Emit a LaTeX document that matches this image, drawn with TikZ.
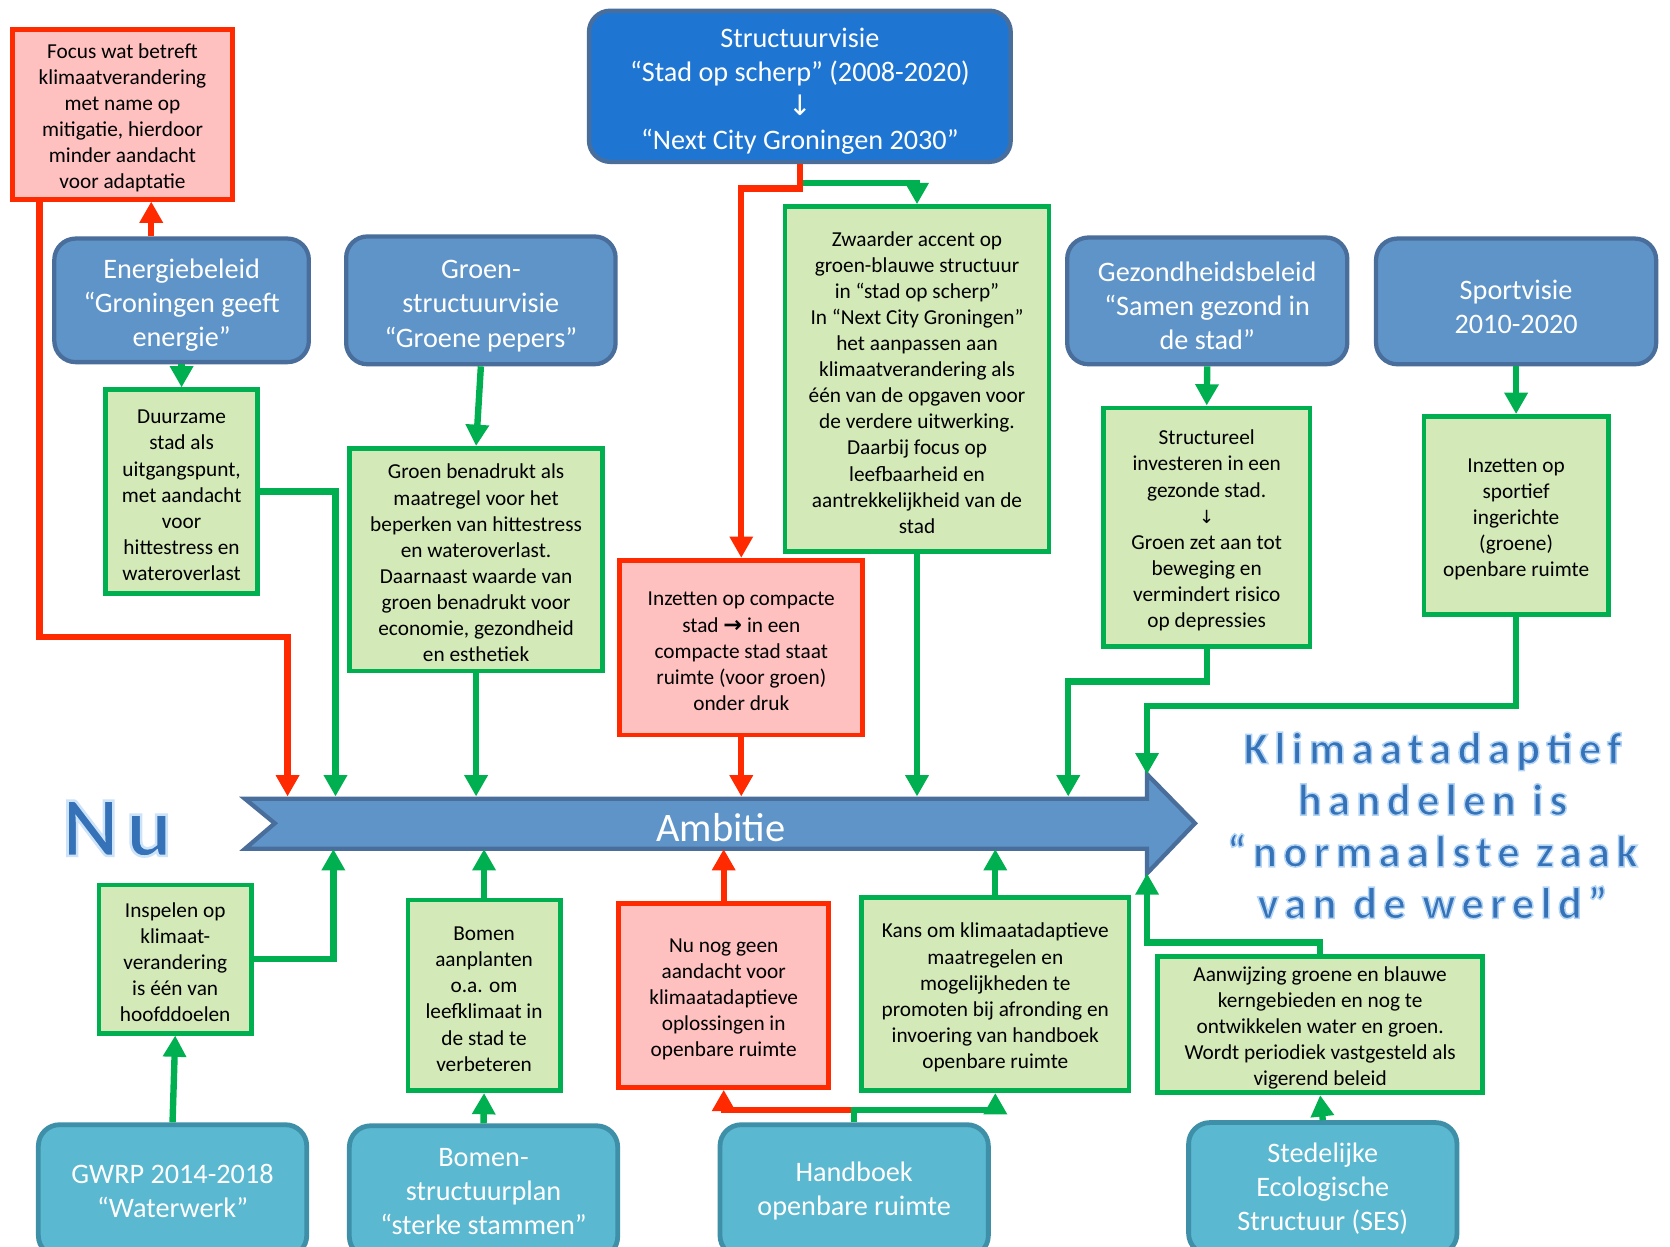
\documentclass[tikz,border=0pt]{standalone}
\usepackage{fontspec}
\setmainfont{Carlito}
\newfontfamily\arrowfont{DejaVu Sans}
\newfontfamily\titlefont[LetterSpace=14]{Carlito}
\newfontfamily\nufont[LetterSpace=9]{Carlito}
\usetikzlibrary{arrows.meta,calc}
\definecolor{gline}{HTML}{00B050}
\definecolor{gfill}{HTML}{D3E9B8}
\definecolor{rline}{HTML}{FF2A00}
\definecolor{rfill}{HTML}{FFC0C0}
\definecolor{bfill}{HTML}{5F94C9}
\definecolor{bline}{HTML}{4A6E9B}
\definecolor{topfill}{HTML}{1F76D2}
\definecolor{tfill}{HTML}{5AB8D0}
\definecolor{tline}{HTML}{3E90A8}
\definecolor{titleblue}{HTML}{3672B8}
\newcommand\outlineon[2]{\special{pdf:literal direct 2 Tr #1 RG #2 w}}
\newcommand\outlineoff{\special{pdf:literal direct 0 Tr}}
\newcommand\sst{\rule{0pt}{20pt}}
\newcommand\bst{\rule{0pt}{28pt}}
\tikzset{
  sz/.style 2 args={minimum width=#1pt, minimum height=#2pt},
  small/.style={align=center, font=\fontsize{20}{24.5}\selectfont, inner sep=0pt},
  gbox/.style={small, draw=gline, fill=gfill, line width=4.5pt},
  rbox/.style={small, draw=rline, fill=rfill, line width=4.5pt},
  bbox/.style={draw=bline, fill=bfill, line width=4pt, rounded corners=20pt, text=white,
    align=center, font=\fontsize{26.5}{32}\selectfont, inner sep=0pt},
  topbox/.style={bbox, fill=topfill},
  tbox/.style={bbox, draw=tline, fill=tfill, line width=4.5pt},
  conn/.style={line width=6pt, -{Triangle[width=21pt,length=20pt]}},
  garrow/.style={conn, draw=gline},
  rarrow/.style={conn, draw=rline},
  titletext/.style={align=center, font=\titlefont\bfseries\fontsize{42}{48.5}\selectfont, inner sep=0pt},
  nutext/.style={font=\nufont\bfseries\fontsize{80}{84}\selectfont, inner sep=0pt}
}
\begin{document}
\begin{tikzpicture}[x=1pt,y=-1pt]
\fill[white] (0,0) rectangle (1568,1170);
\useasboundingbox (0,0) rectangle (1568,1170);
\clip (0,0) rectangle (1568,1170);

% ---------- Ambitie arrow ----------
\draw[draw=bline, fill=bfill, line width=4pt, line join=miter]
  (230,750) -- (1077,750) -- (1077,727) -- (1122,773) -- (1077,820) -- (1077,797)
  -- (230,797) -- (258,773) -- cycle;
\node[sz={847}{49}, inner sep=0pt] (amb) at (653.5,772.5) {};
\node[text=white, font=\fontsize{38}{40}\selectfont, inner sep=0pt] (ambtext) at (677,777) {Ambitie};
\coordinate (headtop) at (1077,727);
\coordinate (headbot) at (1077,820);

% ---------- top row ----------
\node[topbox, sz={396}{142}] (top) at (751,81)
  {\bst Structuurvisie\\“Stad op scherp” (2008-2020)\\{\arrowfont ↓}\\“Next City Groningen 2030”};
\node[bbox, sz={239}{116}] (energie) at (170.5,282) {\bst Energiebeleid\\“Groningen geeft\\energie”};
\node[bbox, sz={253}{120}] (groenstr) at (451.5,282) {\bst Groen-\\structuurvisie\\“Groene pepers”};
\node[bbox, sz={263}{119}] (gezond) at (1133.5,282.5) {\bst Gezondheidsbeleid\\“Samen gezond in\\de stad”};
\node[bbox, sz={263}{118}] (sport) at (1423.5,283) {\bst Sportvisie\\2010-2020};

\node[rbox, sz={206}{159}] (focus) at (115,107.5)
  {\sst Focus wat betreft\\klimaatverandering\\met name op\\mitigatie, hierdoor\\minder aandacht\\voor adaptatie};
\node[gbox, sz={143}{191}] (duur) at (170.5,461.5)
  {\sst Duurzame\\stad als\\uitgangspunt,\\met aandacht\\voor\\hittestress en\\wateroverlast};
\node[gbox, sz={238}{209}] (groenb) at (447,525.5)
  {\sst Groen benadrukt als\\maatregel voor het\\beperken van hittestress\\en wateroverlast.\\Daarnaast waarde van\\groen benadrukt voor\\economie, gezondheid\\en esthetiek};
\node[gbox, sz={248}{324}] (zwaar) at (861,356)
  {\sst Zwaarder accent op\\groen-blauwe structuur\\in “stad op scherp”\\In “Next City Groningen”\\het aanpassen aan\\klimaatverandering als\\één van de opgaven voor\\de verdere uitwerking.\\Daarbij focus op\\leefbaarheid en\\aantrekkelijkheid van de\\stad};
\node[rbox, sz={228}{164}] (inzet) at (696,608)
  {\sst Inzetten op compacte\\stad {\arrowfont\bfseries\fontsize{21}{24.5}\selectfont →} in een\\compacte stad staat\\ruimte (voor groen)\\onder druk};
\node[gbox, sz={194}{224}] (struct) at (1133,495)
  {\sst Structureel\\investeren in een\\gezonde stad.\\{\arrowfont\fontsize{17}{24.5}\selectfont ↓}\\Groen zet aan tot\\beweging en\\vermindert risico\\op depressies};
\node[gbox, sz={173}{186}] (sportief) at (1423.5,484)
  {\sst Inzetten op\\sportief\\ingerichte\\(groene)\\openbare ruimte};

% ---------- bottom row ----------
\node[gbox, sz={143}{139}] (insp) at (164.5,900.5)
  {\sst Inspelen op\\klimaat-\\verandering\\is één van\\hoofddoelen};
\node[gbox, sz={143}{179}] (bomen) at (454.5,934.5)
  {\sst Bomen\\aanplanten\\o.a. om\\leefklimaat in\\de stad te\\verbeteren};
\node[rbox, sz={197}{173}] (nunog) at (679.5,934.5)
  {\sst Nu nog geen\\aandacht voor\\klimaatadaptieve\\oplossingen in\\openbare ruimte};
\node[gbox, sz={251}{181}] (kans) at (934.5,933.5)
  {\sst Kans om klimaatadaptieve\\maatregelen en\\mogelijkheden te\\promoten bij afronding en\\invoering van handboek\\openbare ruimte};
\node[gbox, sz={305}{128}] (aanw) at (1239.5,962)
  {\sst Aanwijzing groene en blauwe\\kerngebieden en nog te\\ontwikkelen water en groen.\\Wordt periodiek vastgesteld als\\vigerend beleid};

\node[tbox, sz={252}{124}] (gwrp) at (162,1118) {GWRP 2014-2018\\“Waterwerk”};
\node[tbox, sz={252}{124}] (bsp) at (454,1119) {Bomen-\\structuurplan\\“sterke stammen”};
\node[tbox, sz={252}{124}] (hand) at (802,1118) {Handboek\\openbare ruimte};
\node[tbox, sz={252}{124}] (ses) at (1242,1116) {Stedelijke\\Ecologische\\Structuur (SES)};

% ---------- big texts ----------
\node[nutext, text=titleblue] (nu) at (110,778)
  {\outlineon{0.80 0.89 0.98}{2.4}Nu\outlineoff};
\node[titletext, text=titleblue] (title) at (1345,775)
  {\outlineon{0.70 0.83 0.96}{1.4}Klimaatadaptief\\handelen is\\“normaalste zaak\\van de wereld”\outlineoff};

% ---------- connectors ----------
\draw[rarrow] (142,0 |- energie.north) -- (142,0 |- focus.south);
\draw[rarrow] (37,0 |- focus.south) |- (270,598) -- (270,0 |- amb.north);
\draw[garrow] (top.south) |- (zwaar.north |- 0,172) -- (zwaar.north);
\draw[rarrow] (top.south) |- (696,177) -- (inzet.north);
\draw[rarrow] (inzet.south) -- (inzet.south |- amb.north);
\draw[rarrow] (nunog.north) -- (nunog.north |- amb.south);
\draw[rarrow] (hand.north) |- ($(nunog.south)+(0,19)$) -- (nunog.south);
\draw[garrow] (hand.north) |- ($(kans.south)+(0,16)$) -- (kans.south);
\draw[garrow] (energie.south) -- (duur.north);
\draw[garrow] (duur.east) -| (315,0 |- amb.north);
\draw[garrow] (groenstr.south) -- (groenb.north);
\draw[garrow] (groenb.south) -- (groenb.south |- amb.north);
\draw[garrow] (zwaar.south) -- (zwaar.south |- amb.north);
\draw[garrow] (gezond.south) -- (struct.north);
\draw[garrow] (struct.south) |- (1003,640) -- (1003,0 |- amb.north);
\draw[garrow] (sport.south) -- (sportief.north);
\draw[garrow] (sportief.south) |- (1077,663) -- (headtop);
\draw[garrow] (insp.east) -| (313,0 |- amb.south);
\draw[garrow] (gwrp.north) -- (insp.south);
\draw[garrow] (bomen.north) -- (bomen.north |- amb.south);
\draw[garrow] (bsp.north) -- (bomen.south);
\draw[garrow] (kans.north) -- (kans.north |- amb.south);
\draw[garrow] (aanw.north) |- (1077,885) -- (headbot);
\draw[garrow] (ses.north) -- (aanw.south);
\end{tikzpicture}
\end{document}
